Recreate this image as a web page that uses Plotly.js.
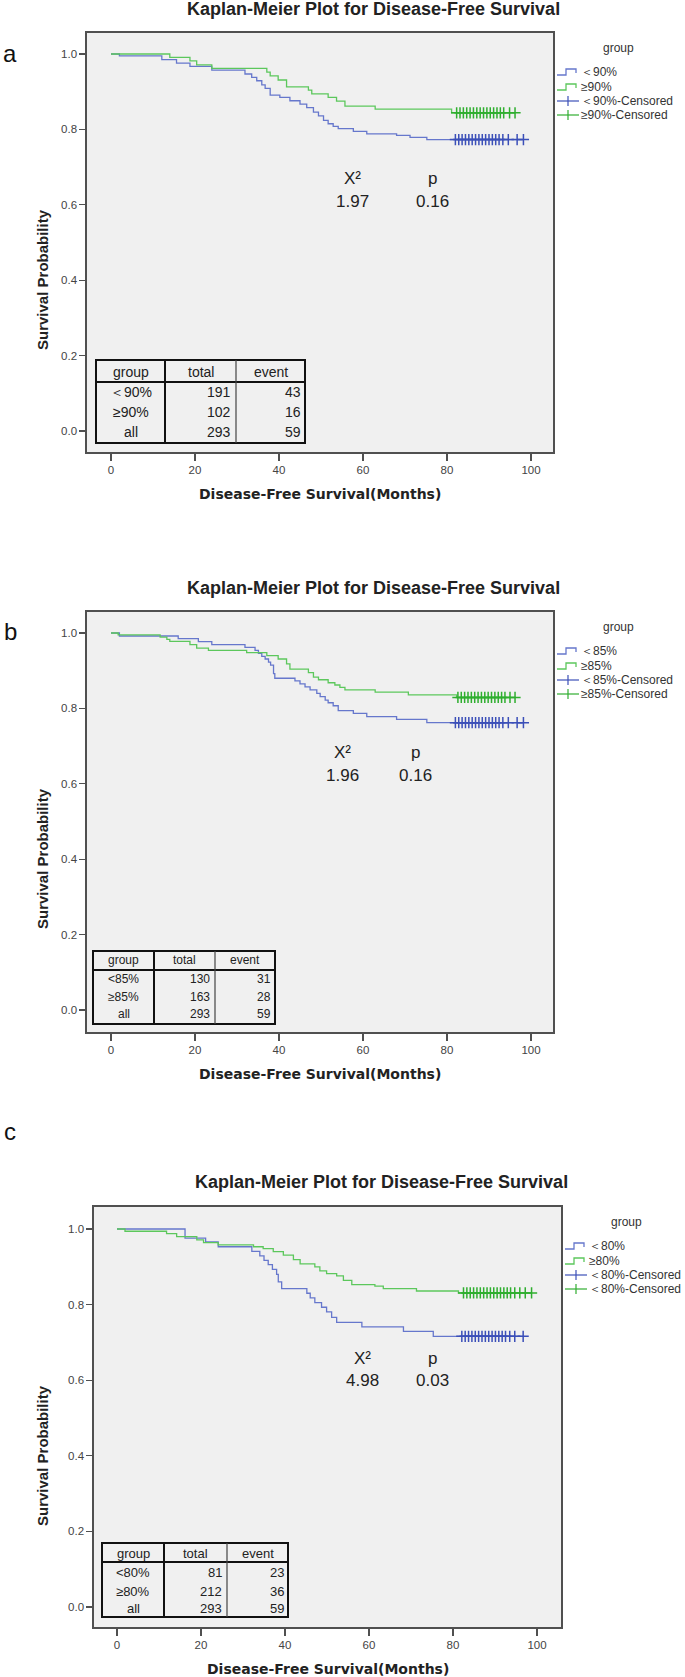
<!DOCTYPE html>
<html><head><meta charset="utf-8">
<script src="https://cdn.plot.ly/plotly-3.0.1.min.js"></script>
<style>html,body{margin:0;padding:0;background:#fff}</style>
</head><body><div id="chart" style="width:685px;height:1677px"></div>
<script>
// ---------------- DATA ----------------
const xTickVals = [0, 20, 40, 60, 80, 100];
const yTickVals = [0, 0.2, 0.4, 0.6, 0.8, 1.0];
const plotTitle = 'Kaplan-Meier Plot for Disease-Free Survival';
const xTitle = 'Disease-Free Survival(Months)';
const yTitle = 'Survival Probability';
const panelLetters = ['a', 'b', 'c'];

// Panel a  (<90% vs ≥90%)
const aLowTimes = [2.0, 12.1, 15.6, 18.8, 24.0, 31.9, 33.5, 34.7, 35.9, 36.7, 37.9, 40.2, 42.6, 45.0, 46.6, 48.2, 49.4, 50.6, 51.7, 52.9, 54.1, 57.7, 60.9, 68.0, 71.2, 75.2];
const aLowSurv  = [0.995, 0.985, 0.976, 0.967, 0.957, 0.947, 0.938, 0.929, 0.918, 0.909, 0.891, 0.885, 0.876, 0.867, 0.858, 0.846, 0.836, 0.824, 0.815, 0.808, 0.802, 0.795, 0.788, 0.784, 0.779, 0.773];
const aLowCens  = [82.0, 82.8, 83.6, 84.4, 85.2, 86.0, 86.8, 87.6, 88.4, 89.2, 90.0, 90.8, 91.6, 92.4, 93.3, 94.6, 96.7, 98.2];
const aHighTimes = [14.0, 18.8, 20.4, 24.0, 37.1, 37.9, 39.8, 41.8, 47.0, 47.8, 51.7, 53.7, 55.7, 62.9, 81.1];
const aHighSurv  = [0.991, 0.982, 0.971, 0.962, 0.952, 0.942, 0.931, 0.913, 0.904, 0.894, 0.885, 0.875, 0.862, 0.854, 0.844];
const aHighCens  = [82.3, 83.1, 83.9, 84.7, 85.5, 86.3, 87.1, 87.9, 88.7, 89.5, 90.3, 91.1, 91.9, 92.7, 93.5, 94.9, 96.2];
const aLegend = ['＜90%', '≥90%', '＜90%-Censored', '≥90%-Censored'];
const aGroups = ['＜90%', '≥90%', 'all'];
const aTotals = [191, 102, 293];
const aEvents = [43, 16, 59];

// Panel b  (<85% vs ≥85%)
const bLowTimes = [2.0, 16.0, 20.8, 24.0, 31.9, 34.3, 35.1, 35.9, 36.7, 37.5, 38.0, 38.7, 39.0, 43.8, 45.0, 46.2, 47.4, 49.0, 49.8, 51.0, 51.7, 52.9, 54.1, 57.7, 60.9, 68.0, 75.2];
const bLowSurv  = [0.992, 0.985, 0.977, 0.969, 0.962, 0.954, 0.946, 0.938, 0.931, 0.923, 0.915, 0.892, 0.880, 0.873, 0.865, 0.857, 0.849, 0.840, 0.831, 0.822, 0.815, 0.807, 0.794, 0.787, 0.778, 0.771, 0.762];
const bLowCens  = [82.0, 82.8, 83.6, 84.4, 85.2, 86.0, 86.8, 87.6, 88.4, 89.2, 90.0, 90.8, 91.6, 92.4, 93.3, 94.6, 96.7, 98.2];
const bHighTimes = [1.7, 11.7, 13.3, 14.0, 18.8, 20.4, 23.2, 32.3, 37.1, 39.8, 41.8, 42.6, 47.0, 48.2, 49.4, 51.7, 53.3, 54.5, 55.7, 62.9, 70.8, 82.3];
const bHighSurv  = [0.995, 0.989, 0.983, 0.978, 0.969, 0.960, 0.954, 0.948, 0.940, 0.931, 0.918, 0.904, 0.895, 0.883, 0.876, 0.868, 0.862, 0.856, 0.849, 0.843, 0.836, 0.829];
const bHighCens  = [82.6, 83.4, 84.2, 85.0, 85.8, 86.6, 87.4, 88.2, 89.0, 89.8, 90.6, 91.4, 92.2, 93.0, 93.8, 95.0, 96.2];
const bLegend = ['＜85%', '≥85%', '＜85%-Censored', '≥85%-Censored'];
const bGroups = ['<85%', '≥85%', 'all'];
const bTotals = [130, 163, 293];
const bEvents = [31, 28, 59];

// Panel c  (<80% vs ≥80%)
const cLowTimes = [16.2, 21.1, 24.1, 32.1, 34.0, 35.0, 36.0, 37.0, 38.0, 38.4, 39.2, 45.2, 46.0, 47.1, 48.7, 49.9, 51.1, 52.3, 58.3, 68.2, 75.3];
const cLowSurv  = [0.976, 0.966, 0.953, 0.941, 0.929, 0.917, 0.906, 0.893, 0.880, 0.860, 0.842, 0.830, 0.818, 0.805, 0.793, 0.781, 0.766, 0.753, 0.741, 0.729, 0.716];
const cLowCens  = [82.1, 82.9, 83.7, 84.5, 85.3, 86.1, 86.9, 87.7, 88.5, 89.3, 90.1, 90.9, 91.7, 92.5, 93.5, 94.7, 96.7];
const cHighTimes = [1.9, 11.8, 14.2, 19.0, 20.6, 24.1, 32.5, 34.8, 37.2, 39.6, 42.0, 43.6, 47.1, 48.3, 49.9, 52.3, 53.9, 55.9, 61.4, 63.4, 71.3, 81.3];
const cHighSurv  = [0.994, 0.988, 0.980, 0.971, 0.964, 0.958, 0.953, 0.948, 0.940, 0.931, 0.919, 0.908, 0.900, 0.889, 0.882, 0.876, 0.864, 0.853, 0.849, 0.842, 0.836, 0.831];
const cHighCens  = [82.5, 83.3, 84.1, 84.9, 85.7, 86.5, 87.3, 88.1, 88.9, 89.7, 90.5, 91.3, 92.1, 92.9, 93.7, 94.7, 95.9, 97.2, 98.7];
const cLegend = ['＜80%', '≥80%', '＜80%-Censored', '＜80%-Censored'];
const cGroups = ['<80%', '≥80%', 'all'];
const cTotals = [81, 212, 293];
const cEvents = [23, 36, 59];

const chiSquare = ['1.97', '1.96', '4.98'];
const pValues = ['0.16', '0.16', '0.03'];
const tableHeader = ['group', 'total', 'event'];

// ---------------- LAYOUT / STYLE ----------------
const W = 685, H = 1677;
const px = x => x / W;
const py = y => 1 - y / H;
const FONT = 'Liberation Sans, Arial, sans-serif';
const BLUE_LINE = '#6677cc', BLUE_MARK = '#3b4fb8';
const GREEN_LINE = '#5cc75c', GREEN_MARK = '#2fae2f';

const panels = [
  { low: [aLowTimes, aLowSurv, aLowCens], high: [aHighTimes, aHighSurv, aHighCens], legend: aLegend,
    table: [aGroups, aTotals, aEvents],
    L: 87, R: 553, T: 33, B: 452, xr: [-5.714, 105.24], yr: [-0.0557, 1.0557],
    letterY: 54, titleY: 9, yTitleY: 280,
    stat: { x1: 353, x2: 432, y1: 179, y2: 202 },
    tbl: { L: 96, R: 305, T: 360, B: 443, d1: 165, d2: 236, hb: 382, rows: [372, 392, 412, 432], fs: 14 } },
  { low: [bLowTimes, bLowSurv, bLowCens], high: [bHighTimes, bHighSurv, bHighCens], legend: bLegend,
    table: [bGroups, bTotals, bEvents],
    L: 87, R: 553, T: 612, B: 1032, xr: [-5.714, 105.24], yr: [-0.0584, 1.0557],
    letterY: 631, titleY: 588, yTitleY: 859,
    stat: { x1: 342, x2: 415, y1: 753, y2: 775 },
    tbl: { L: 93, R: 275, T: 951, B: 1024, d1: 154, d2: 215, hb: 970, rows: [960, 979, 997, 1014], fs: 12 } },
  { low: [cLowTimes, cLowSurv, cLowCens], high: [cHighTimes, cHighSurv, cHighCens], legend: cLegend,
    table: [cGroups, cTotals, cEvents],
    L: 94, R: 561, T: 1207, B: 1627, xr: [-5.476, 105.71], yr: [-0.0529, 1.0582],
    letterY: 1131, titleY: 1182, yTitleY: 1456,
    stat: { x1: 362, x2: 432, y1: 1358, y2: 1380 },
    tbl: { L: 102, R: 288, T: 1543, B: 1617, d1: 164, d2: 227, hb: 1562, rows: [1553, 1572, 1591, 1608], fs: 13 } }
];

const traces = [];
const shapes = [];
const annotations = [];
const layout = {
  width: W, height: H, margin: { l: 0, r: 0, t: 0, b: 0 },
  paper_bgcolor: '#ffffff', plot_bgcolor: '#f0f0f0', showlegend: false,
  font: { family: FONT, color: '#333' }
};

function ann(text, x, y, opts) {
  annotations.push(Object.assign({
    text: text, x: px(x), y: py(y), xref: 'paper', yref: 'paper',
    showarrow: false, xanchor: 'center', yanchor: 'middle',
    font: { family: FONT, size: 12, color: '#333' }
  }, opts || {}));
}
function line(x0, y0, x1, y1, color, width) {
  shapes.push({ type: 'line', xref: 'paper', yref: 'paper', x0: px(x0), y0: py(y0), x1: px(x1), y1: py(y1),
    line: { color: color, width: width }, layer: 'above' });
}
function pathShape(pts, color, width) {
  const d = pts.map((p, i) => (i ? 'L' : 'M') + px(p[0]).toFixed(5) + ',' + py(p[1]).toFixed(5)).join(' ');
  shapes.push({ type: 'path', xref: 'paper', yref: 'paper', path: d, line: { color: color, width: width }, layer: 'above' });
}

panels.forEach((p, i) => {
  const s = i === 0 ? '' : String(i + 1);
  const xa = 'x' + s, ya = 'y' + s;
  layout['xaxis' + s] = {
    domain: [px(p.L), px(p.R)], range: p.xr, anchor: ya,
    showgrid: false, zeroline: false, showline: true, mirror: true,
    linecolor: '#505050', linewidth: 1.6, ticks: 'outside', ticklen: 7, tickwidth: 1.3, tickcolor: '#505050',
    tickvals: xTickVals, tickfont: { family: FONT, size: 11.5, color: '#444' }, fixedrange: true
  };
  layout['yaxis' + s] = {
    domain: [py(p.B), py(p.T)], range: p.yr, anchor: xa,
    showgrid: false, zeroline: false, showline: true, mirror: true,
    linecolor: '#505050', linewidth: 1.6, ticks: 'outside', ticklen: 6, tickwidth: 1.3, tickcolor: '#505050',
    tickvals: yTickVals, tickformat: '.1f', tickfont: { family: FONT, size: 11.5, color: '#444' }, fixedrange: true
  };

  [[p.low, BLUE_LINE, BLUE_MARK], [p.high, GREEN_LINE, GREEN_MARK]].forEach(([g, lc, mc]) => {
    const [times, surv, cens] = g;
    const last = surv[surv.length - 1];
    const endT = cens[cens.length - 1];
    traces.push({
      type: 'scatter', mode: 'lines', xaxis: xa, yaxis: ya,
      x: [0].concat(times, [endT]), y: [1].concat(surv, [last]),
      line: { color: lc, width: 1.3, shape: 'hv' }, hoverinfo: 'skip'
    });
    traces.push({
      type: 'scatter', mode: 'markers', xaxis: xa, yaxis: ya,
      x: cens, y: cens.map(() => last),
      marker: { symbol: 'cross-thin', size: 8, color: mc, line: { color: mc, width: 1.5 } }, hoverinfo: 'skip'
    });
  });

  // panel letter, title, axis titles
  ann(panelLetters[i], 10, p.letterY, { font: { family: FONT, size: 24, color: '#111' } });
  ann(plotTitle, p.L + 287, p.titleY, { font: { family: FONT, size: 18, color: '#222', weight: 'bold' } });
  ann(xTitle, (p.L + p.R) / 2, p.B + 42, { font: { family: 'DejaVu Sans, sans-serif', size: 14, color: '#222', weight: 'bold' } });
  ann(yTitle, 42, p.yTitleY, { textangle: -90, font: { family: FONT, size: 15, color: '#222', weight: 'bold' } });

  // statistics
  const st = p.stat;
  const sf = { family: FONT, size: 17, color: '#222' };
  ann('X²', st.x1, st.y1, { font: sf });
  ann('p', st.x2, st.y1, { font: sf });
  ann(chiSquare[i], st.x1, st.y2, { font: sf });
  ann(pValues[i], st.x2, st.y2, { font: sf });

  // legend
  const lf = { family: FONT, size: 12, color: '#333' };
  ann('group', p.R + 65, p.T + 15, { font: lf });
  const rowsY = [p.T + 39, p.T + 54, p.T + 68, p.T + 82];
  const x0 = p.R + 4;
  pathShape([[x0, rowsY[0] + 3], [x0 + 9, rowsY[0] + 3], [x0 + 9, rowsY[0] - 3], [x0 + 19, rowsY[0] - 3], [x0 + 19, rowsY[0] + 1]], BLUE_LINE, 1.3);
  pathShape([[x0, rowsY[1] + 3], [x0 + 9, rowsY[1] + 3], [x0 + 9, rowsY[1] - 3], [x0 + 19, rowsY[1] - 3], [x0 + 19, rowsY[1] + 1]], GREEN_LINE, 1.3);
  [[rowsY[2], BLUE_MARK], [rowsY[3], GREEN_MARK]].forEach(([yy, c]) => {
    line(x0, yy, x0 + 22, yy, c, 1.2);
    line(x0 + 11, yy - 5, x0 + 11, yy + 5, c, 1.2);
  });
  p.legend.forEach((t, k) => ann(t, p.R + 26, rowsY[k], { xanchor: 'left', font: lf }));

  // summary table
  const tb = p.tbl;
  const tf = { family: FONT, size: tb.fs, color: '#222' };
  shapes.push({ type: 'rect', xref: 'paper', yref: 'paper', x0: px(tb.L), x1: px(tb.R), y0: py(tb.B), y1: py(tb.T),
    line: { color: '#111', width: 2 }, fillcolor: 'rgba(0,0,0,0)', layer: 'above' });
  line(tb.L, tb.hb, tb.R, tb.hb, '#111', 2);
  line(tb.d1, tb.T, tb.d1, tb.B, '#111', 2);
  line(tb.d2, tb.T, tb.d2, tb.B, '#444', 1.2);
  ann(tableHeader[0], (tb.L + tb.d1) / 2, tb.rows[0], { font: tf });
  ann(tableHeader[1], (tb.d1 + tb.d2) / 2, tb.rows[0], { font: tf });
  ann(tableHeader[2], (tb.d2 + tb.R) / 2, tb.rows[0], { font: tf });
  const [gr, tot, ev] = p.table;
  gr.forEach((g, k) => {
    ann(g, (tb.L + tb.d1) / 2, tb.rows[k + 1], { font: tf });
    ann(String(tot[k]), tb.d2 - 3, tb.rows[k + 1], { xanchor: 'right', font: tf });
    ann(String(ev[k]), tb.R - 2, tb.rows[k + 1], { xanchor: 'right', font: tf });
  });
});

layout.shapes = shapes;
layout.annotations = annotations;
Plotly.newPlot('chart', traces, layout, { staticPlot: true, displayModeBar: false });
</script></body></html>
